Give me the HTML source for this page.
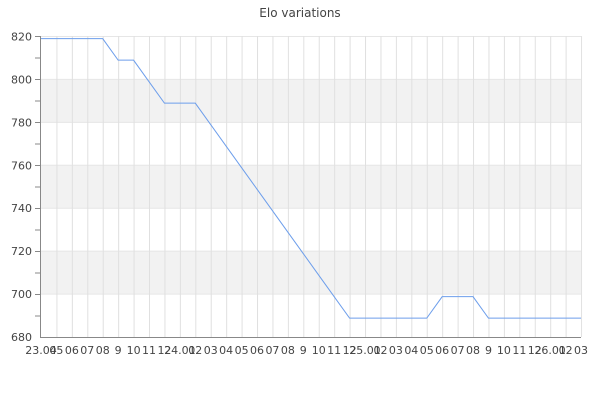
<!DOCTYPE html>
<html><head><meta charset="utf-8"><style>body{margin:0;background:#fff}svg{display:block}text{font-family:"DejaVu Sans","Liberation Sans",sans-serif}</style></head>
<body>
<svg width="600" height="400" viewBox="0 0 600 400" xmlns="http://www.w3.org/2000/svg">
<rect width="600" height="400" fill="#fff"/>
<text x="300" y="17" font-size="12" fill="#444" text-anchor="middle">Elo variations</text>
<g fill="#f2f2f2">
<rect x="41" y="79.4" width="540" height="42.9"/>
<rect x="41" y="165.3" width="540" height="42.9"/>
<rect x="41" y="251.1" width="540" height="42.9"/>
</g>
<g stroke="#e0e0e0" stroke-width="1" id="g"></g>
<g stroke="#e6e6e6">
<line x1="41" y1="36.5" x2="581" y2="36.5"/>
<line x1="41" y1="79.4" x2="581" y2="79.4"/>
<line x1="41" y1="122.4" x2="581" y2="122.4"/>
<line x1="41" y1="165.3" x2="581" y2="165.3"/>
<line x1="41" y1="208.2" x2="581" y2="208.2"/>
<line x1="41" y1="251.1" x2="581" y2="251.1"/>
<line x1="41" y1="294.1" x2="581" y2="294.1"/>
</g>
<g id="v" stroke="#e0e0e0"></g>
<line x1="40.5" y1="36" x2="40.5" y2="337.5" stroke="#888"/>
<line x1="40" y1="337.5" x2="581" y2="337.5" stroke="#888"/>
<g id="t" stroke="#888"></g>
<g font-size="11" fill="#444" text-anchor="end">
<text x="32" y="40.5">820</text><text x="32" y="83.4">800</text><text x="32" y="126.4">780</text><text x="32" y="169.3">760</text><text x="32" y="212.2">740</text><text x="32" y="255.1">720</text><text x="32" y="298.1">700</text><text x="32" y="341">680</text>
</g>
<g id="xl" font-size="11" fill="#444" text-anchor="middle"></g>
<polyline id="p" fill="none" stroke="#6d9eeb" stroke-width="1"/>
<script>
var ns="http://www.w3.org/2000/svg",sp=15.43,x0=41;
function X(i){return x0+i*sp}
function Y(v){return 36.5+(820-v)*301/140}
var v=document.getElementById('v');
for(var i=1;i<=35;i++){var l=document.createElementNS(ns,'line');l.setAttribute('x1',X(i)+.5);l.setAttribute('x2',X(i)+.5);l.setAttribute('y1',36);l.setAttribute('y2',337);v.appendChild(l);}
var t=document.getElementById('t');
for(var k=0;k<14;k++){var y=36.5+k*21.5;var l=document.createElementNS(ns,'line');l.setAttribute('x1',35);l.setAttribute('x2',40);l.setAttribute('y1',y);l.setAttribute('y2',y);t.appendChild(l);}
var labs=["23.04","05","06","07","08","9","10","11","12","24.01","02","03","04","05","06","07","08","9","10","11","12","25.01","02","03","04","05","06","07","08","9","10","11","12","26.01","02","03"];
var xl=document.getElementById('xl');
labs.forEach(function(s,i){var e=document.createElementNS(ns,'text');e.setAttribute('x',X(i));e.setAttribute('y',354);e.textContent=s;xl.appendChild(e);});
var d=[819,819,819,819,819,809,809,799,789,789,789];
for(var i=11;i<=20;i++)d.push(789-(i-10)*10);
for(var i=21;i<=25;i++)d.push(689);
d.push(699,699,699);
for(var i=29;i<=35;i++)d.push(689);
document.getElementById('p').setAttribute('points',d.map(function(a,i){return X(i)+','+Y(a)}).join(' '));
</script>
</svg>
</body></html>
